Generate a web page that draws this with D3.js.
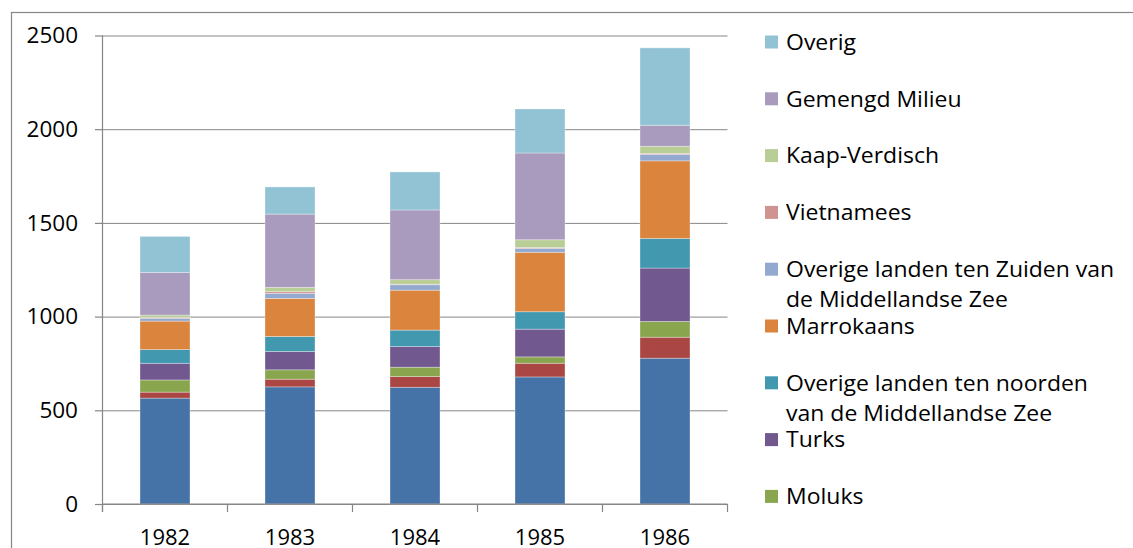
<!DOCTYPE html>
<html>
<head>
<meta charset="utf-8">
<script src="https://cdn.jsdelivr.net/npm/d3@7"></script>
<style>
  html, body { margin: 0; padding: 0; background: #ffffff; overflow: hidden; }
  svg { display: block; }
  text { font-family: "Open Sans", "Noto Sans", sans-serif; fill: #000; }
</style>
</head>
<body>
<svg id="chart" width="1133" height="548"></svg>
<script>
// Categories (years)
const years = ["1982", "1983", "1984", "1985", "1986"];

// Series values per year, stacked bottom to top
const surinaams      = [565, 625, 623, 678, 778];
const antilliaans    = [32, 41, 57, 73, 112];
const moluks         = [65, 50, 50, 34, 84];
const turks          = [89, 98, 110, 148, 285];
const noorden        = [73, 80, 88, 93, 158];
const marrokaans     = [152, 203, 213, 317, 414];
const zuiden         = [15, 27, 29, 21, 35];
const vietnamees     = [4, 9, 3, 5, 5];
const kaapVerdisch   = [13, 23, 24, 41, 38];
const gemengdMilieu  = [228, 391, 372, 463, 112];
const overig         = [192, 145, 203, 235, 413];

// Series names, in stacking order (bottom first)
const seriesNames = [
  "Surinaams",
  "Antilliaans",
  "Moluks",
  "Turks",
  "Overige landen ten noorden van de Middellandse Zee",
  "Marrokaans",
  "Overige landen ten Zuiden van de Middellandse Zee",
  "Vietnamees",
  "Kaap-Verdisch",
  "Gemengd Milieu",
  "Overig"
];
const seriesValues = [surinaams, antilliaans, moluks, turks, noorden, marrokaans,
                      zuiden, vietnamees, kaapVerdisch, gemengdMilieu, overig];

// Legend label lines (wrapped)
const legendLines = {
  "Overige landen ten noorden van de Middellandse Zee": ["Overige landen ten noorden", "van de Middellandse Zee"],
  "Overige landen ten Zuiden van de Middellandse Zee": ["Overige landen ten Zuiden van", "de Middellandse Zee"]
};

// Y axis tick values
const yTicks = [0, 500, 1000, 1500, 2000, 2500];

const colors = ["#4572A7", "#AA4643", "#89A54E", "#71588F", "#4198AF", "#DB843D",
                "#93A9CF", "#D19392", "#B9CD96", "#A99BBD", "#92C3D5"];

// Build table rows for stacking
const rows = years.map((yr, i) => {
  const r = { year: yr };
  seriesNames.forEach((n, s) => { r[n] = seriesValues[s][i]; });
  return r;
});
const stacked = d3.stack().keys(seriesNames)(rows);

const W = 1133, H = 548;
const svg = d3.select("#chart");
const axisColor = "#868686";

// Outer chart frame (continues past the right and bottom edges)
svg.append("rect")
  .attr("x", 11.5).attr("y", 12.5)
  .attr("width", 1200).attr("height", 600)
  .attr("fill", "none").attr("stroke", axisColor).attr("stroke-width", 1.2);

const plotLeft = 102.5, plotRight = 727.5, plotTop = 35.5, plotBottom = 504;

const x = d3.scaleBand().domain(years).range([plotLeft, plotRight])
  .paddingInner(0.6).paddingOuter(0.3);
const y = d3.scaleLinear().domain([0, 2500]).range([plotBottom, plotTop]);
const color = d3.scaleOrdinal().domain(seriesNames).range(colors);

// Gridlines
svg.append("g")
  .attr("transform", `translate(${plotLeft},0)`)
  .call(d3.axisLeft(y).tickValues(yTicks).tickSize(-(plotRight - plotLeft)).tickFormat(""))
  .call(g => g.select(".domain").remove())
  .call(g => g.selectAll("line").attr("stroke", axisColor).attr("stroke-width", 1));

// Y axis with tick labels
svg.append("g")
  .attr("transform", `translate(${plotLeft},0)`)
  .call(d3.axisLeft(y).tickValues(yTicks).tickFormat(d3.format("d"))
      .tickSize(7.5).tickPadding(17).tickSizeOuter(0))
  .call(g => g.select(".domain").attr("stroke", axisColor).attr("stroke-width", 1.2)
      .attr("d", `M0,${plotTop}V${plotBottom + 8}`))
  .call(g => g.selectAll("line").attr("stroke", axisColor).attr("stroke-width", 1.2))
  .call(g => g.selectAll("text").attr("font-size", 22.5)
      .style("font-family", "'Open Sans', sans-serif").attr("fill", "#000"));

// Stacked bars
svg.append("g")
  .selectAll("g")
  .data(stacked)
  .join("g")
  .attr("fill", d => color(d.key))
  .selectAll("rect")
  .data(d => d)
  .join("rect")
  .attr("x", d => x(d.data.year))
  .attr("y", d => y(d[1]))
  .attr("width", x.bandwidth())
  .attr("height", d => y(d[0]) - y(d[1]))
  .attr("stroke", "rgba(255,255,255,0.4)")
  .attr("stroke-width", 0.8);

// X axis line and category boundary ticks
const xAxis = svg.append("g");
xAxis.append("line")
  .attr("x1", plotLeft).attr("x2", plotRight)
  .attr("y1", plotBottom).attr("y2", plotBottom)
  .attr("stroke", axisColor).attr("stroke-width", 1.2);
const boundaries = d3.range(years.length + 1).map(i => plotLeft + i * x.step());
xAxis.selectAll("line.tick")
  .data(boundaries)
  .join("line")
  .attr("class", "tick")
  .attr("x1", d => d).attr("x2", d => d)
  .attr("y1", plotBottom).attr("y2", plotBottom + 8)
  .attr("stroke", axisColor).attr("stroke-width", 1.2);
xAxis.selectAll("text")
  .data(years)
  .join("text")
  .attr("x", d => x(d) + x.bandwidth() / 2)
  .attr("y", 545)
  .attr("text-anchor", "middle")
  .attr("font-size", 22)
  .text(d => d);

// Legend (top entry is the top of the stack); entries that do not fit are dropped
const legendOrder = seriesNames.slice().reverse();
const rowY = i => 42 + i * 56.8;
const legendItems = legendOrder
  .map((name, i) => ({ name, cy: rowY(i) }))
  .filter(d => d.cy + 20 < H);

const legend = svg.append("g");
legendItems.forEach(({ name, cy }) => {
  legend.append("rect")
    .attr("x", 765).attr("y", cy - 6.5)
    .attr("width", 13).attr("height", 13)
    .attr("fill", color(name));
  const lines = legendLines[name] || [name];
  lines.forEach((ln, j) => {
    legend.append("text")
      .attr("transform", `translate(786,${cy + j * 30}) scale(1.07,1)`)
      .attr("dy", "0.36em")
      .attr("font-size", 21.5)
      .text(ln);
  });
});
</script>
</body>
</html>
